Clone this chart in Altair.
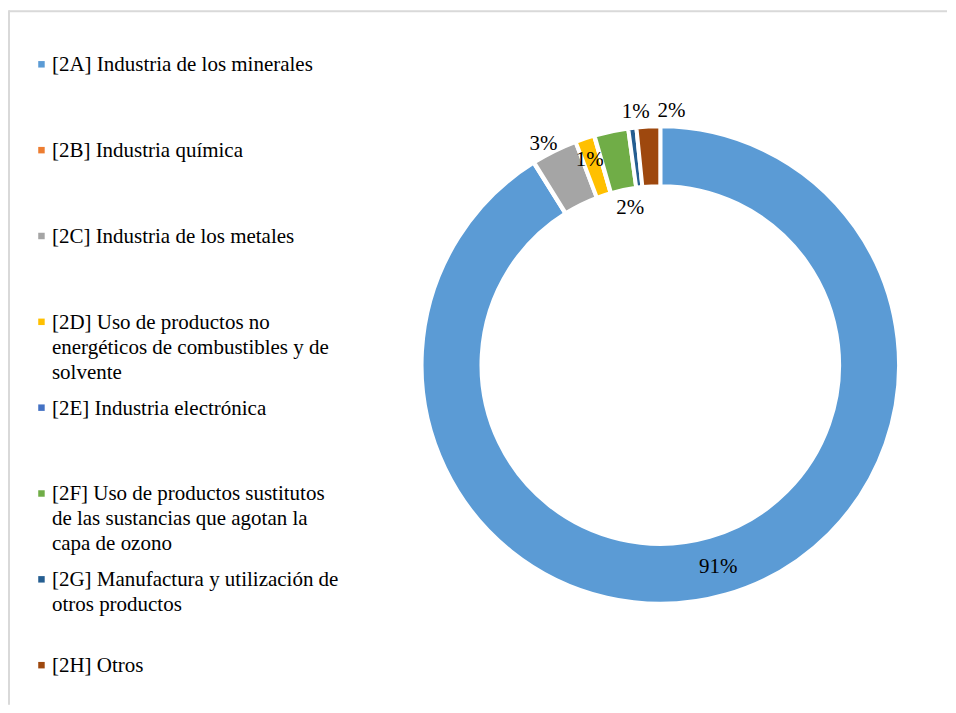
import altair as alt
import pandas as pd

codes = ["2A", "2B", "2C", "2D", "2E", "2F", "2G", "2H"]
labels = [
    "[2A] Industria de los minerales",
    "[2B] Industria química",
    "[2C] Industria de los metales",
    "[2D] Uso de productos no\nenergéticos de combustibles y de\nsolvente",
    "[2E] Industria electrónica",
    "[2F] Uso de productos sustitutos\nde las sustancias que agotan la\ncapa de ozono",
    "[2G] Manufactura y utilización de\notros productos",
    "[2H] Otros",
]
values = [91.2, 0.03, 3.1, 1.3, 0.03, 2.3, 0.55, 1.6]
pct_labels = ["91%", "", "3%", "1%", "", "2%", "1%", "2%"]
colors = ["#5B9BD5", "#ED7D31", "#A5A5A5", "#FFC000", "#4472C4", "#70AD47", "#255E91", "#9E480E"]

df = pd.DataFrame({
    "code": codes,
    "label": labels,
    "value": values,
    "pct": pct_labels,
    "order": list(range(len(codes))),
})

FONT = "Liberation Serif"
color_scale = alt.Scale(domain=codes, range=colors)

# ---------- legend ----------
ypos = alt.Y("code:N", axis=None, sort=codes,
             scale=alt.Scale(type="point", range=[56, 657.5], padding=0))

leg_sq = alt.Chart(df).mark_square(size=42, opacity=1).encode(
    x=alt.value(33.5),
    y=ypos,
    color=alt.Color("code:N", scale=color_scale, legend=None),
)
leg_txt = alt.Chart(df).mark_text(
    align="left", baseline="alphabetic", dy=7, lineBreak="\n",
    font=FONT, fontSize=21, lineHeight=25, color="#000000",
).encode(x=alt.value(44), y=ypos, text="label:N")

one = alt.Data(values=[{}])
border_top = alt.Chart(one).mark_rule(color="#d9d9d9", strokeWidth=2).encode(
    x=alt.value(1), x2=alt.value(940), y=alt.value(3)
)
border_left = alt.Chart(one).mark_rule(color="#d9d9d9", strokeWidth=2).encode(
    x=alt.value(1), y=alt.value(2), y2=alt.value(697)
)

# ---------- donut ----------
base = alt.Chart(df).transform_window(
    cum="sum(value)", frame=[None, 0], sort=[alt.SortField("order")]
).transform_joinaggregate(total="sum(value)").transform_calculate(
    f0="(datum.cum - datum.value) / datum.total",
    f1="datum.cum / datum.total",
    fm="(datum.cum - datum.value / 2) / datum.total",
)

CX, CY = 653, 357
theta_scale = alt.Scale(domain=[0, 1])

arcs = base.mark_arc(innerRadius=179, outerRadius=239, stroke="white", strokeWidth=4).encode(
    theta=alt.Theta("f0:Q", scale=theta_scale),
    theta2="f1:Q",
    color=alt.Color("code:N", scale=color_scale, legend=None),
    x=alt.value(CX),
    y=alt.value(CY),
)

label_specs = [
    ("2A", 210, 0, 0),
    ("2C", 250, -6, 3),
    ("2D", 217, -2, 1),
    ("2F", 161, 3, 0),
    ("2G", 253, 5, -2),
    ("2H", 255, 24, 0),
]
text_layers = []
for code, r, dx, dy in label_specs:
    text_layers.append(
        base.transform_filter(alt.datum.code == code).mark_text(
            radius=r, dx=dx, dy=dy, font=FONT, fontSize=21, color="#000000",
            align="center", baseline="middle",
        ).encode(
            theta=alt.Theta("fm:Q", scale=theta_scale),
            text="pct:N",
            x=alt.value(CX),
            y=alt.value(CY),
        )
    )

chart = alt.layer(border_top, border_left, leg_sq, leg_txt, arcs, *text_layers).properties(
    width=940, height=697, padding=0, background="white"
).configure_view(strokeWidth=0)

chart.save("out.html", embed_options={"renderer": "svg", "actions": False})
